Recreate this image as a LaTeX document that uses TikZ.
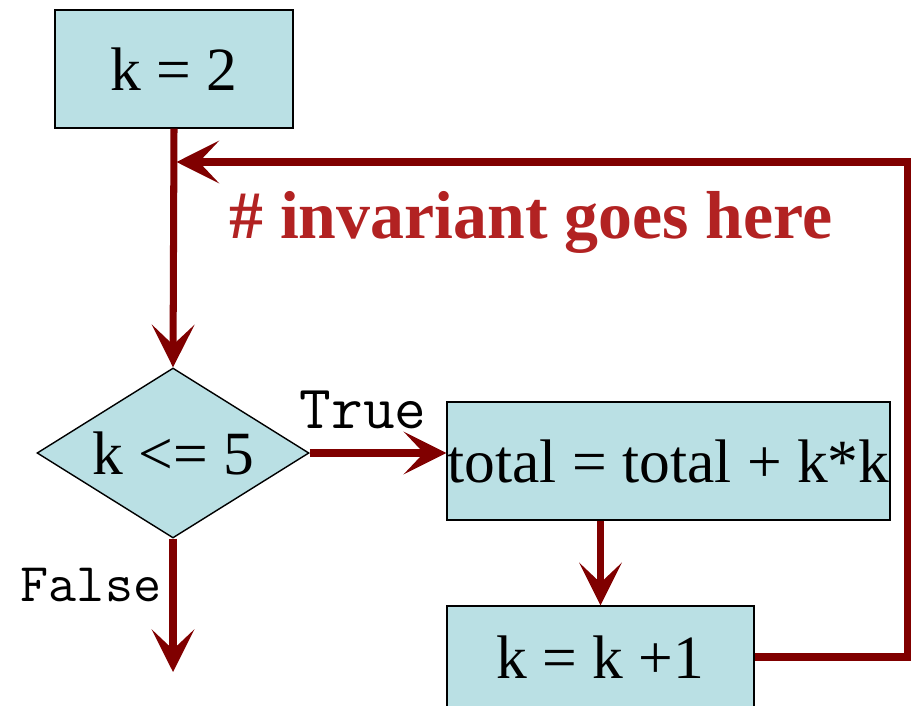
\documentclass[tikz,border=0pt]{standalone}
\usepackage{fontspec}
\setmainfont{Liberation Serif}
\usetikzlibrary{shapes.geometric,arrows.meta}

\definecolor{boxfill}{RGB}{186,224,228}
\definecolor{flowred}{RGB}{128,0,0}
\definecolor{notered}{RGB}{178,34,34}

\begin{document}
\begin{tikzpicture}[
    flow/.style={line width=4pt, flowred, -{Stealth[length=0.85cm, width=0.85cm, inset=0.4cm]}},
    stmt/.style={draw, line width=0.8pt, fill=boxfill, minimum height=2.36cm, inner sep=0pt,
                 font=\fontsize{35}{40}\selectfont},
    test/.style={draw, line width=0.8pt, fill=boxfill, diamond, aspect=1.6, inner sep=0pt,
                 minimum width=5.44cm, minimum height=3.4cm, font=\fontsize{35}{40}\selectfont},
    branch/.style={font=\ttfamily\fontsize{35}{40}\selectfont}
  ]
        \useasboundingbox (0,0) rectangle (18.34,14.1);
        \clip (0,0) rectangle (18.34,14.1);

        % Boxes of the loop
        \node[stmt, minimum width=4.76cm] (init) at (3.48,12.72) {k = 2};
        \node[test] (cond) at (3.46,5.04) {k <= 5};
        \node[stmt, minimum width=8.86cm] (body) at (13.37,4.88) {total = total + k*k};
        \node[stmt, minimum width=6.14cm, minimum height=2.04cm] (incr) at (12.01,0.96) {k = k +1};

        % Free ends and the point where the loop comes back
        \coordinate (join) at (3.53,10.86);
        \coordinate (exit) at (3.46,0.66);

        % Flow lines
        \draw[flow] (init.south) -- (cond.north);
        \draw[flow] (cond.east) -- (cond.east -| body.west);
        \draw[flow] (body.south -| incr.north) -- (incr.north);
        \draw[flow] (cond.south) -- (exit);
        \draw[flow] (incr.east) -| (18.14,10.86) -- (join);

        % Labels
        \node[branch] (yes) at (7.26,5.9) {True};
        \node[branch, font=\ttfamily\fontsize{31}{36}\selectfont] (no) at (1.82,2.4) {False};
        \node[notered, font=\bfseries\fontsize{38.6}{44}\selectfont] (inv) at (10.62,9.66) {\# invariant goes here};
\end{tikzpicture}
\end{document}
